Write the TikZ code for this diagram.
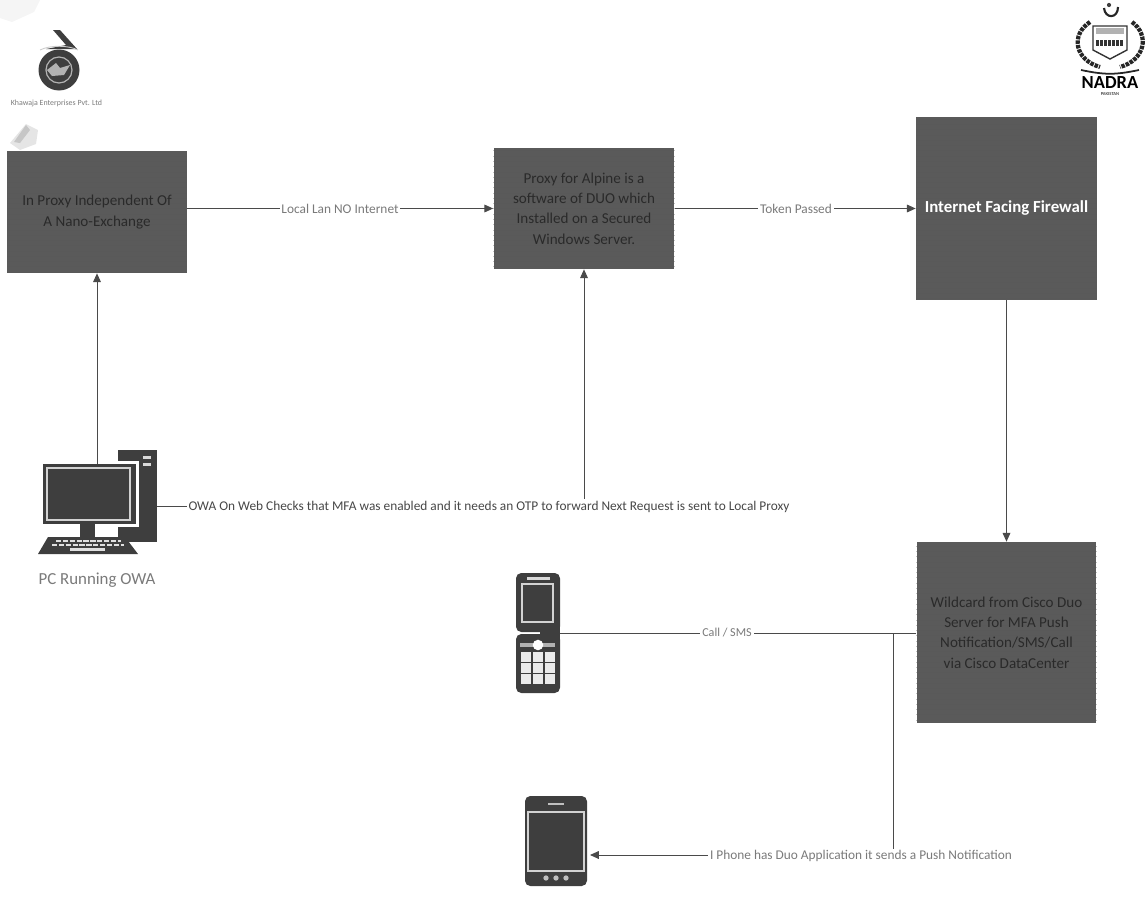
\documentclass[tikz,border=0pt]{standalone}
\usepackage{fontspec}
\usepackage{tikz}
\usetikzlibrary{patterns, arrows.meta}
\setmainfont{Carlito}
\definecolor{boxgrey}{HTML}{5A5A5A}
\definecolor{boxtext}{HTML}{2A2A2A}
\definecolor{linegrey}{HTML}{4A4A4A}
\definecolor{icongrey}{HTML}{3E3E3E}
\definecolor{labelgrey}{HTML}{7A7A7A}
\tikzset{
    darkbox/.style={fill=boxgrey, text=boxtext, align=center, inner sep=0pt, font=\fontsize{8.6}{11.6}\selectfont,
        postaction={pattern=horizontal lines, pattern color=gray!70!black}},
    link/.style={draw=linegrey, line width=0.55pt},
    linkarrow/.style={link, -{Triangle[length=5pt, width=4.4pt]}},
    linklabel/.style={fill=white, inner sep=1pt, text=labelgrey, font=\fontsize{7.6}{9}\selectfont},
    screenline/.style={draw=gray!35, line width=0.6pt},
    wreath/.style={draw=black!85, line width=2.4pt, dash pattern=on 2pt off 0.6pt},
}
\begin{document}
\begin{tikzpicture}[x=0.02cm, y=-0.02cm]
    \useasboundingbox (0, 0) rectangle (1147, 916);

    % Boxes
    \node[darkbox, minimum width=3.6cm, minimum height=2.44cm] (proxy) at (97, 212) {In Proxy Independent Of\\A Nano-Exchange};
    \node[darkbox, minimum width=3.62cm, minimum height=2.42cm] (agent) at (584, 208.5) {Proxy for Alpine is a\\software of DUO which\\Installed on a Secured\\Windows Server.};
    \node[darkbox, text=white, font=\fontsize{9.6}{11}\bfseries\selectfont, minimum width=3.62cm, minimum height=3.66cm] (firewall) at (1006.5, 208.5) {Internet Facing Firewall};
    \node[darkbox, minimum width=3.6cm, minimum height=3.62cm] (duo) at (1006.5, 632.5) {Wildcard from Cisco Duo\\Server for MFA Push\\Notification/SMS/Call\\via Cisco DataCenter};

    % PC
    \fill[icongrey] (118, 450) rectangle (157, 542);
    \fill[gray!30] (143, 456) rectangle (151, 459);
    \fill[gray!30] (143, 463) rectangle (151, 466);
    \fill[white] (40, 461) rectangle (139, 527);
    \fill[icongrey] (43, 464) rectangle (136, 524);
    \draw[screenline] (47, 468) rectangle (130, 520);
    \fill[icongrey] (80, 524) rectangle (95, 537);
    \fill[icongrey] (48, 537) -- (125, 537) -- (138, 554) -- (38, 554) -- cycle;
    \foreach \row/\left/\right in {541/56/121, 545/52/124} {
        \draw[gray!25, line width=1.6pt, dash pattern=on 3pt off 0.9pt] (\left, \row) -- (\right, \row);
    }
    \fill[gray!25] (70, 548) rectangle (105, 551);
    \coordinate (pctop) at (97, 464);
    \coordinate (pcside) at (157, 506);
    \node[text=labelgrey, font=\fontsize{9.6}{11}\selectfont] (pclabel) at (97, 580) {PC Running OWA};

    % Flip phone
    \fill[icongrey, rounded corners=3pt] (516, 573) rectangle (560, 632);
    \fill[icongrey, rounded corners=3pt] (516, 634) rectangle (560, 693);
    \fill[icongrey] (540, 626) rectangle (560, 640);
    \draw[screenline] (522, 584) rectangle (553, 622);
    \fill[white!85!black] (527, 577) rectangle (550, 580);
    \fill[gray!60] (520, 643) rectangle (555, 647);
    \fill[white] (538, 645) circle (3pt);
    \foreach \col in {520.5, 532.5, 544.5} {
        \foreach \row in {652, 663, 674} {
            \fill[white!92!black] (\col, \row) rectangle +(10.5, 9.5);
        }
    }
    \coordinate (flipphone) at (560, 633);

    % Smartphone
    \fill[icongrey, rounded corners=3pt] (525, 796) rectangle (587, 886);
    \draw[screenline] (528, 812) rectangle (584, 871);
    \draw[gray!50, line width=0.6pt] (548, 804) -- (564, 804);
    \foreach \dot in {546, 556, 566} {
        \fill[gray!50] (\dot, 878) circle (1.5pt);
    }
    \coordinate (smartphone) at (590, 855);

    % Links
    \coordinate (branch) at (893, 633);
    \draw[linkarrow] (pctop) -- (proxy.south);
    \draw[linkarrow] (proxy.east |- agent.west) -- (agent.west);
    \draw[linkarrow] (agent.east) -- (firewall.west);
    \draw[linkarrow] (firewall.south) -- (duo.north);
    \draw[linkarrow] (pcside) -| (agent.south);
    \draw[link] (duo.west |- branch) -- (flipphone);
    \draw[linkarrow] (branch) |- (smartphone);

    % Link labels
    \node[linklabel] (lanlabel) at (340, 209) {Local Lan NO Internet};
    \node[linklabel] (tokenlabel) at (796, 209) {Token Passed};
    \node[linklabel, text=black!72] (owalabel) at (489, 506.5) {OWA On Web Checks that MFA was enabled and it needs an OTP to forward Next Request is sent to Local Proxy};
    \node[linklabel, font=\fontsize{6.9}{8}\selectfont] (calllabel) at (727, 633) {Call / SMS};
    \node[linklabel] (pushlabel) at (861, 856) {I Phone has Duo Application it sends a Push Notification};

    % Left logo
    \fill[icongrey] (53, 30) -- (60, 30) -- (77, 49) -- (46, 49) -- (66, 45) -- cycle;
    \draw[gray!40, line width=0.5pt] (40, 50) .. controls (50, 45) and (68, 45) .. (78, 50);
    \fill[icongrey] (59, 70) circle (20.5);
    \draw[gray!60, line width=0.7pt] (59, 70) circle (13);
    \fill[gray!60] (47, 70) -- (56, 63) -- (60, 68) -- (70, 65) -- (64, 75) -- (52, 76) -- cycle;
    \node[text=labelgrey, font=\fontsize{4.5}{5}\selectfont, inner sep=0pt] (khawaja) at (56.5, 103) {Khawaja Enterprises Pvt. Ltd};

    % Scan marks
    \fill[gray!20] (10, 143) -- (26, 124) -- (38, 130) -- (36, 144) -- (20, 150) -- cycle;
    \fill[gray!45] (14, 142) -- (26, 125) -- (30, 130) -- (20, 143) -- cycle;
    \fill[gray!8] (0, 0) -- (40, 0) -- (34, 12) -- (12, 22) -- (0, 18) -- cycle;

    % Right logo
    \draw[black!85, line width=1.2pt] (1104, 8) .. controls (1105, 19) and (1118, 19) .. (1118, 7);
    \fill[black!75] (1109, 5) circle (1.2pt);
    \draw[wreath] (1090, 22) .. controls (1070, 35) and (1075, 60) .. (1100, 67);
    \draw[wreath] (1132, 22) .. controls (1150, 35) and (1145, 60) .. (1120, 67);
    \draw[black!80, line width=0.8pt] (1093, 26) -- (1127, 26) -- (1127, 50) -- (1110, 59) -- (1093, 50) -- cycle;
    \fill[gray!60] (1096, 28) rectangle (1124, 34);
    \draw[black!80, line width=3pt, dash pattern=on 1.5pt off 0.8pt] (1096, 43) -- (1124, 43);
    \draw[black!85, line width=1pt] (1081, 70) .. controls (1105, 75) and (1115, 75) .. (1139, 70);
    \node[text=black, font=\fontsize{10.5}{11}\bfseries\selectfont, inner sep=0pt] (nadra) at (1110, 83) {NADRA};
    \node[text=black!70, font=\fontsize{2.6}{3}\bfseries\selectfont, inner sep=0pt] (pakistan) at (1110, 94.5) {PAKISTAN};
\end{tikzpicture}
\end{document}
